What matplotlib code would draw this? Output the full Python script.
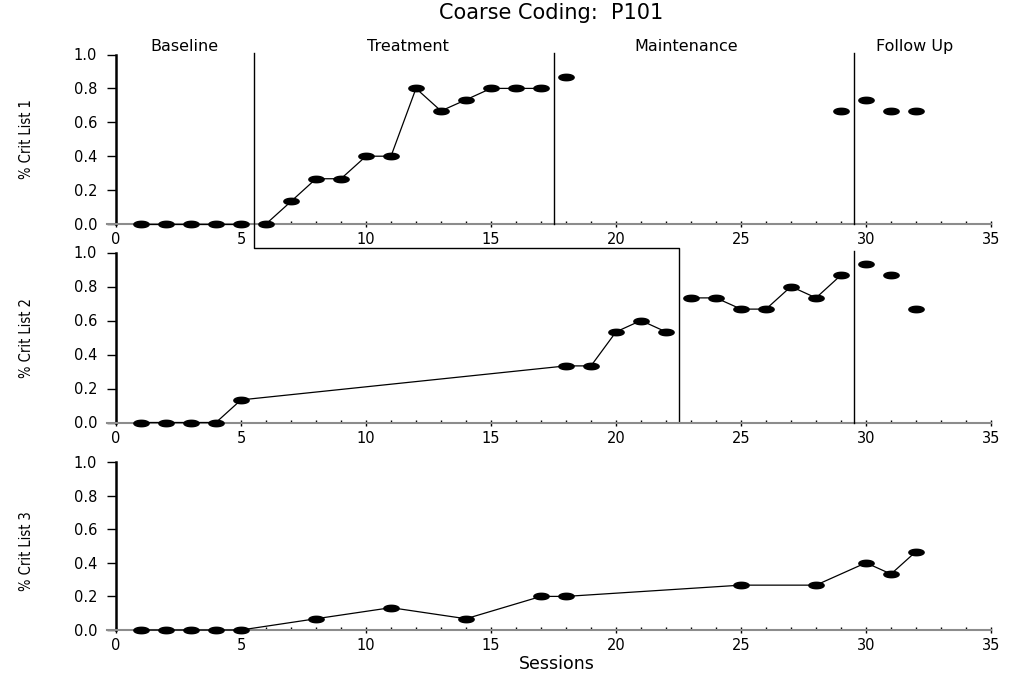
import matplotlib
matplotlib.use("Agg")
import matplotlib.pyplot as plt
import numpy as np
from matplotlib.path import Path
from matplotlib import font_manager
from matplotlib.font_manager import FontProperties

# ---------------- data ----------------
s1_a = [1, 2, 3, 4, 5]
v1_a = [0, 0, 0, 0, 0]
s1_b = [6, 7, 8, 9, 10, 11, 12, 13, 14, 15, 16, 17]
v1_b = [0, 0.133, 0.267, 0.267, 0.4, 0.4, 0.8, 0.667, 0.733, 0.8, 0.8, 0.8]
s1_c = [18, 29, 30, 31, 32]
v1_c = [0.867, 0.667, 0.733, 0.667, 0.667]

s2_a = [1, 2, 3, 4, 5, 18, 19, 20, 21, 22]
v2_a = [0, 0, 0, 0, 0.133, 0.333, 0.333, 0.533, 0.6, 0.533]
s2_b = [23, 24, 25, 26, 27, 28, 29]
v2_b = [0.733, 0.733, 0.667, 0.667, 0.8, 0.733, 0.867]
s2_c = [30, 31, 32]
v2_c = [0.933, 0.867, 0.667]

s3 = [1, 2, 3, 4, 5, 8, 11, 14, 17, 18, 25, 28, 30, 31, 32]
v3 = [0, 0, 0, 0, 0, 0.067, 0.133, 0.067, 0.2, 0.2, 0.267, 0.267, 0.4, 0.333, 0.467]

phase_names = ["Baseline", "Treatment", "Maintenance", "Follow Up"]
phase_label_x = [2.72, 11.66, 22.8, 31.96]
ylabels = ["% Crit List 1", "% Crit List 2", "% Crit List 3"]
title = "Coarse Coding:  P101"
xlabel = "Sessions"
xticks = [0, 5, 10, 15, 20, 25, 30, 35]
yticks = [0.0, 0.2, 0.4, 0.6, 0.8, 1.0]

# ---------------- style ----------------
plt.rcParams['font.family'] = ['DejaVu Sans']

narrow = None
for f in font_manager.fontManager.ttflist:
    if ('Narrow' in f.name or 'Condensed' in f.name or
            str(f.stretch) in ('condensed', 'semi-condensed', 'extra-condensed')):
        if 'Bold' not in f.fname and 'Oblique' not in f.fname and 'Italic' not in f.fname:
            narrow = f.fname
            break

t = np.linspace(0, 2 * np.pi, 60)
ell = Path(np.column_stack([np.cos(t), 0.42 * np.sin(t)]), closed=True)

W, H = 1009, 677
fig = plt.figure(figsize=(W / 100, H / 100), dpi=100)

def pos(top_px, bot_px):
    left = 116 / W
    right = 991 / W
    return [left, 1 - bot_px / H, right - left, (bot_px - top_px) / H]

axes = [fig.add_axes(pos(54.5, 224)), fig.add_axes(pos(252.5, 422.5)), fig.add_axes(pos(462, 630))]

for i, ax in enumerate(axes):
    ax.set_facecolor('none')
    ax.set_xlim(0, 35)
    ax.set_ylim(0, 1)
    for sp in ['top', 'right']:
        ax.spines[sp].set_visible(False)
    ax.spines['left'].set_linewidth(1.8)
    ax.spines['bottom'].set_color('#8c8c8c')
    ax.spines['bottom'].set_linewidth(1.5)
    ax.spines['bottom'].set_bounds(-0.36, 35)
    ax.set_xticks(xticks)
    ax.set_xticks(range(0, 36), minor=True)
    ax.set_yticks(yticks)
    ax.set_yticklabels([f"{v:.1f}" for v in yticks])
    ax.tick_params(axis='y', direction='out', length=6.5, width=1, labelsize=10.5, pad=7)
    ax.tick_params(axis='x', which='major', direction='inout', length=4, width=1, labelsize=10.5, pad=4)
    ax.tick_params(axis='x', which='minor', direction='in', length=2, width=1)
    if narrow:
        fp = FontProperties(fname=narrow, size=10.5)
    else:
        fp = FontProperties(family='Liberation Sans', size=9.5)
    ax.set_ylabel(ylabels[i], fontproperties=fp)
    ax.yaxis.set_label_coords(-0.094, 0.5 if i < 2 else 0.47)

mk = dict(marker=ell, markersize=11, color='black', markerfacecolor='black', clip_on=False, zorder=5)
ax1, ax2, ax3 = axes
ax1.plot(s1_a, v1_a, lw=0.9, **mk)
ax1.plot(s1_b, v1_b, lw=0.9, **mk)
ax1.plot(s1_c, v1_c, ls='none', **mk)
ax2.plot(s2_a, v2_a, lw=0.9, **mk)
ax2.plot(s2_b, v2_b, lw=0.9, **mk)
ax2.plot(s2_c, v2_c, ls='none', **mk)
ax3.plot(s3, v3, lw=0.9, **mk)

# phase lines
pl = dict(color='black', lw=1.0, clip_on=False, zorder=3)
y_top = 1 + 2 / 170
y_con = -24 / 170
y_p2 = -(422.5 - 224) / 170
ax1.plot([5.5, 5.5, 22.5, 22.5], [y_top, y_con, y_con, y_p2], **pl)
ax1.plot([17.5, 17.5], [y_top, 0], **pl)
ax1.plot([29.5, 29.5], [y_top, 0], **pl)
ax2.plot([29.5, 29.5], [1 + 2 / 170, 0], **pl)

for name, x in zip(phase_names, phase_label_x):
    ax1.text(x, 1 + 4 / 170, name, ha='center', va='baseline', fontsize=11.5)

fig.text(551 / W, 1 - 13 / H, title, ha='center', va='center', fontsize=15)
fig.text(557 / W, 1 - 664 / H, xlabel, ha='center', va='center', fontsize=12.5)

fig.savefig("out.png", dpi=100)
